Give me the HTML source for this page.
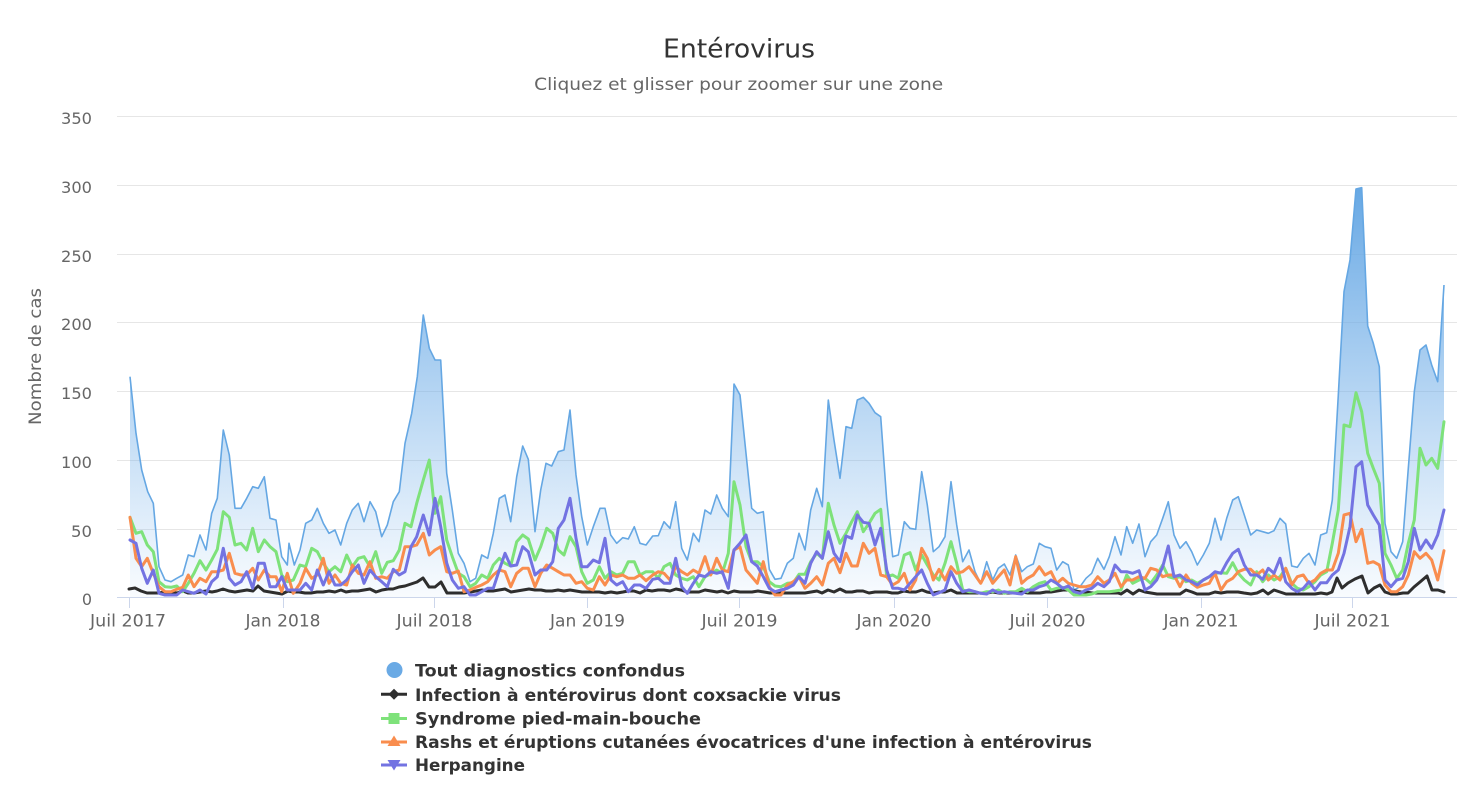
<!DOCTYPE html>
<html><head><meta charset="utf-8"><style>
html,body{margin:0;padding:0;background:#fff;}
svg{display:block;font-family:"DejaVu Sans","Liberation Sans",sans-serif;}
</style></head><body>
<svg width="1480" height="808" viewBox="0 0 1480 808" xmlns="http://www.w3.org/2000/svg">
<defs>
<linearGradient id="ga" gradientUnits="userSpaceOnUse" x1="0" y1="188" x2="0" y2="597.5">
<stop offset="0" stop-color="#67a8e4" stop-opacity="1"/>
<stop offset="1" stop-color="#7cb5ec" stop-opacity="0.05"/>
</linearGradient>
</defs>
<rect width="1480" height="808" fill="#fff"/>
<text x="739" y="57.3" text-anchor="middle" font-size="26" fill="#333" textLength="152" lengthAdjust="spacingAndGlyphs">Entérovirus</text>
<text x="738.7" y="90" text-anchor="middle" font-size="17" fill="#666" textLength="409" lengthAdjust="spacingAndGlyphs">Cliquez et glisser pour zoomer sur une zone</text>
<g stroke="#e6e6e6" stroke-width="1">
<line x1="117" y1="116.5" x2="1457" y2="116.5"/>
<line x1="117" y1="185.5" x2="1457" y2="185.5"/>
<line x1="117" y1="254.5" x2="1457" y2="254.5"/>
<line x1="117" y1="322.5" x2="1457" y2="322.5"/>
<line x1="117" y1="391.5" x2="1457" y2="391.5"/>
<line x1="117" y1="460.5" x2="1457" y2="460.5"/>
<line x1="117" y1="529.5" x2="1457" y2="529.5"/>
</g>
<g font-size="16" fill="#666" text-anchor="end">
<text x="92" y="124" textLength="31" lengthAdjust="spacingAndGlyphs">350</text>
<text x="92" y="193" textLength="31" lengthAdjust="spacingAndGlyphs">300</text>
<text x="92" y="262" textLength="31" lengthAdjust="spacingAndGlyphs">250</text>
<text x="92" y="330" textLength="31" lengthAdjust="spacingAndGlyphs">200</text>
<text x="92" y="399" textLength="31" lengthAdjust="spacingAndGlyphs">150</text>
<text x="92" y="468" textLength="31" lengthAdjust="spacingAndGlyphs">100</text>
<text x="92" y="537" textLength="21" lengthAdjust="spacingAndGlyphs">50</text>
<text x="92" y="605">0</text>
</g>
<text transform="translate(41,356.5) rotate(-90)" text-anchor="middle" font-size="17" fill="#666" textLength="137" lengthAdjust="spacingAndGlyphs">Nombre de cas</text>

<path fill="url(#ga)" stroke="none" d="M130,597.5 L130,376.7 136,433.3 141.7,470 147.7,491.7 153.3,503.3 159,566.7 165,580 171,581.7 176.7,578.3 182.7,575 188.3,555 194,556.7 200,535 206,550 211.7,513.3 217.3,498.3 223.3,430 229.3,455 235,508.3 241,508.3 246.7,498.3 252.7,486.7 258.3,488.3 264.3,476.7 270,518.3 276,520 281.7,556.7 287.3,565 289,543.3 294.3,565 300,550 305.7,523.3 311.7,520 317.3,508.3 323.3,523.3 329,533.3 335,530 340.7,545 346.7,523.3 352.3,510 358.3,503.3 364,521.7 370,501.7 375.7,511.7 381.7,536.7 387.3,525 393.3,501.7 399.3,491.7 405,443.3 411.7,413.3 417.3,376.7 423.3,315 429.3,348.3 435,360 440.7,360 446.7,473.3 452.3,510 458.3,553.3 464,563.3 470,581.7 475.7,578.3 481.7,555 487.7,558.3 493.3,533.3 499.3,498.3 505,495 510.7,521.7 516.7,476.7 522.7,446 528.3,459.3 535,531.7 540.7,490 546,463.3 551.7,466 558.3,451.7 564,450 570,410 576,475 581.7,516.7 587.3,545 593.3,526.7 600,508.3 605,508.3 610.7,535 616.7,543.3 622.7,537.7 628.3,539 634.3,526.7 640,543.3 646,545 652.7,536 658.3,535.7 664,521.7 670,528.3 675.7,501.7 681.7,548.3 687.3,560 693.3,533.3 699,541.7 705,510 710.7,514 716.7,495 722.3,508.3 728.3,516.7 734,384 740,395 746,453.3 751.7,508.3 757.3,513.3 763.3,511.7 769.3,569.3 775,579.3 781,578.3 787.3,563.3 793.3,558.3 799,533.3 805,550 810.7,510 816.7,488.3 822.3,506.7 828.3,400 834,440 840,478.3 846,426.7 851.7,428.3 857.3,400 863.3,397.3 869,403.3 875,412.7 880.7,416.7 886.7,500 892.7,556.7 898.3,555 904.3,521.7 910,528.3 915.7,529.3 921.7,471.7 927.3,505 933.3,551.7 939,546.7 945,536.7 951,481.7 956.7,525 962.7,561.7 969,550 975,571.7 980.7,583.3 986.7,561.7 992.7,580 998.3,568.3 1004.3,564 1010,575 1015.7,555 1021.7,571.7 1027.3,566.7 1033.3,564 1039.3,543.3 1045,546.7 1051,548.3 1056.7,570 1062.7,561.7 1068.3,565 1074,590 1080,586.7 1086,578.3 1091.7,573.3 1097.7,558.3 1104,569.3 1109.3,556.7 1115,536.7 1121,555 1126.7,526.7 1132.7,543.3 1139,524 1145,556.7 1150.7,541.7 1156.7,535 1162.7,518.3 1168.3,501.7 1174,535 1180,548.3 1186,541.7 1191.7,551.7 1197.3,565 1203.3,555 1209.3,543.3 1215,518.3 1221,540 1226.7,518.3 1232.7,500 1238.3,496.7 1244.3,515 1250.7,535 1256.7,530 1262.7,531.7 1268.3,533.3 1274,530.7 1280,518.3 1285.7,524 1291.7,566 1297.3,567.3 1303.3,558.3 1309,553.3 1315,565 1320.7,535 1326.7,532.7 1332.3,500 1338.3,395 1344,291.7 1350,260 1356,189 1361.7,187.7 1367.7,326 1373.3,343.3 1379.3,366.7 1385,523.3 1391,551.7 1396.7,558.3 1402.7,541.7 1408.3,468.3 1414.3,391.7 1420,350 1426,345 1431.7,365 1437.7,381.7 1444,285 L1444,597.5 Z"/>
<polyline fill="none" stroke="#65a7e3" stroke-width="1.6" stroke-linejoin="round" points="130,376.7 136,433.3 141.7,470 147.7,491.7 153.3,503.3 159,566.7 165,580 171,581.7 176.7,578.3 182.7,575 188.3,555 194,556.7 200,535 206,550 211.7,513.3 217.3,498.3 223.3,430 229.3,455 235,508.3 241,508.3 246.7,498.3 252.7,486.7 258.3,488.3 264.3,476.7 270,518.3 276,520 281.7,556.7 287.3,565 289,543.3 294.3,565 300,550 305.7,523.3 311.7,520 317.3,508.3 323.3,523.3 329,533.3 335,530 340.7,545 346.7,523.3 352.3,510 358.3,503.3 364,521.7 370,501.7 375.7,511.7 381.7,536.7 387.3,525 393.3,501.7 399.3,491.7 405,443.3 411.7,413.3 417.3,376.7 423.3,315 429.3,348.3 435,360 440.7,360 446.7,473.3 452.3,510 458.3,553.3 464,563.3 470,581.7 475.7,578.3 481.7,555 487.7,558.3 493.3,533.3 499.3,498.3 505,495 510.7,521.7 516.7,476.7 522.7,446 528.3,459.3 535,531.7 540.7,490 546,463.3 551.7,466 558.3,451.7 564,450 570,410 576,475 581.7,516.7 587.3,545 593.3,526.7 600,508.3 605,508.3 610.7,535 616.7,543.3 622.7,537.7 628.3,539 634.3,526.7 640,543.3 646,545 652.7,536 658.3,535.7 664,521.7 670,528.3 675.7,501.7 681.7,548.3 687.3,560 693.3,533.3 699,541.7 705,510 710.7,514 716.7,495 722.3,508.3 728.3,516.7 734,384 740,395 746,453.3 751.7,508.3 757.3,513.3 763.3,511.7 769.3,569.3 775,579.3 781,578.3 787.3,563.3 793.3,558.3 799,533.3 805,550 810.7,510 816.7,488.3 822.3,506.7 828.3,400 834,440 840,478.3 846,426.7 851.7,428.3 857.3,400 863.3,397.3 869,403.3 875,412.7 880.7,416.7 886.7,500 892.7,556.7 898.3,555 904.3,521.7 910,528.3 915.7,529.3 921.7,471.7 927.3,505 933.3,551.7 939,546.7 945,536.7 951,481.7 956.7,525 962.7,561.7 969,550 975,571.7 980.7,583.3 986.7,561.7 992.7,580 998.3,568.3 1004.3,564 1010,575 1015.7,555 1021.7,571.7 1027.3,566.7 1033.3,564 1039.3,543.3 1045,546.7 1051,548.3 1056.7,570 1062.7,561.7 1068.3,565 1074,590 1080,586.7 1086,578.3 1091.7,573.3 1097.7,558.3 1104,569.3 1109.3,556.7 1115,536.7 1121,555 1126.7,526.7 1132.7,543.3 1139,524 1145,556.7 1150.7,541.7 1156.7,535 1162.7,518.3 1168.3,501.7 1174,535 1180,548.3 1186,541.7 1191.7,551.7 1197.3,565 1203.3,555 1209.3,543.3 1215,518.3 1221,540 1226.7,518.3 1232.7,500 1238.3,496.7 1244.3,515 1250.7,535 1256.7,530 1262.7,531.7 1268.3,533.3 1274,530.7 1280,518.3 1285.7,524 1291.7,566 1297.3,567.3 1303.3,558.3 1309,553.3 1315,565 1320.7,535 1326.7,532.7 1332.3,500 1338.3,395 1344,291.7 1350,260 1356,189 1361.7,187.7 1367.7,326 1373.3,343.3 1379.3,366.7 1385,523.3 1391,551.7 1396.7,558.3 1402.7,541.7 1408.3,468.3 1414.3,391.7 1420,350 1426,345 1431.7,365 1437.7,381.7 1444,285"/>

<polyline fill="none" stroke="#2e2e2e" stroke-width="3" stroke-linejoin="round" stroke-linecap="round" points="129,589 135,588 141,591 147,593 153,593 159,593 165,592 171,592 177,593 183,591 188,593 194,593 200,592 206,591 212,592 217,591 223,589 229,591 235,592 241,591 247,590 253,591 258,586 264,591 270,592 276,593 282,594 288,591 293,592 299,592 305,593 311,593 317,592 323,592 329,591 335,592 341,590 346,592 352,591 358,591 364,590 370,589 376,592 382,590 388,589 393,589 399,587 405,586 411,584 417,582 423,578 429,587 435,587 441,582 447,593 452,593 458,593 464,593 470,592 476,591 482,590 488,591 493,591 499,590 505,589 511,592 517,591 523,590 529,589 535,590 541,590 546,591 552,591 558,590 564,591 570,590 576,591 582,592 587,592 593,592 599,592 605,593 611,592 617,593 623,592 628,591 634,591 640,593 646,590 652,591 658,590 664,590 670,591 676,589 681,590 687,592 693,592 699,592 705,590 711,591 717,592 722,591 728,593 734,591 740,592 746,592 752,592 758,591 764,592 770,593 775,593 781,593 787,593 793,593 799,593 805,593 811,592 817,591 822,593 828,590 834,592 840,589 846,592 852,592 857,591 863,591 869,593 875,592 881,592 887,592 892,593 898,593 904,591 910,592 916,592 922,590 927,592 933,593 939,592 945,592 951,590 957,593 963,593 969,593 975,593 981,593 987,593 993,592 999,593 1005,593 1010,593 1016,593 1022,592 1028,593 1034,593 1040,593 1046,592 1051,592 1057,591 1063,590 1069,590 1075,591 1081,592 1086,592 1092,593 1100,593 1106,593 1112,593 1118,593 1121,594 1127,590 1133,594 1139,590 1145,592 1151,593 1157,594 1163,594 1169,594 1175,594 1180,594 1186,590 1192,592 1197,594 1203,594 1209,594 1215,592 1221,593 1227,592 1233,592 1238,592 1244,593 1251,594 1257,593 1263,590 1268,594 1274,590 1280,592 1286,594 1292,594 1298,594 1303,594 1309,594 1315,594 1321,593 1327,594 1332,592 1337,578 1342,588 1348,583 1355,579 1362,576 1368,593 1374,588 1380,585 1385,592 1391,594 1397,594 1403,593 1408,593 1414,587 1420,582 1427,576 1432,590 1438,590 1444,592"/>

<polyline fill="none" stroke="#7ee27a" stroke-width="3" stroke-linejoin="round" stroke-linecap="round" points="130,517.3 136,533.3 141.7,531.7 147.3,545 153.3,551.7 159,581.7 165,586.7 171,587.3 176.7,586 182.7,591.7 188.3,583.3 194,573.3 200,560.7 206,570 211.7,560 217.3,549.3 223.3,511.7 229.3,517.3 235,545 241,543.3 246.7,550 252.7,528.3 258.3,551.7 264.3,540 270,546.7 276,551.7 281.7,575 287.3,581.7 293.3,580 300,565 305.7,566.7 311.7,548.3 317.3,551.7 323.3,563.3 329,571.7 335,566.7 340.7,571.7 346.7,555 352.3,566.7 358.3,558.3 364,556.7 370,566.7 375.7,551.7 381.7,573.3 387.3,562.3 393.3,560.7 399.3,550 405,523.3 411,526.7 416.7,503.3 423.3,480 429.3,460 435,513.3 440.7,496.7 446.7,540 452.3,556.7 458.3,573.3 464,576.7 470,586.7 475.7,583.3 481.7,575 487.7,578.3 493.3,565 499.3,558.3 505,563.3 510.7,566 516.7,541.7 522.7,535 528.3,539 535,560 540.7,546.7 546.7,528.3 552.7,533.3 558.3,550 564,555 570,536.7 576,546.7 581.7,571.7 587.3,583.3 593.3,580 599.3,566.7 605,578.3 611,571.7 616.7,575 622.7,573.3 628.3,561.7 634.3,561.7 640,575 646,571.7 652.7,571.7 658.3,578.3 664,566.7 670,563.3 675.7,575 681.7,578.3 687.3,580 693.3,576.7 699,586.7 705,576.7 710.7,574 716.7,570 722.3,573.3 728.3,553.3 734,481.7 740,505 746,546.7 751.7,561.7 757.3,561.7 763.3,566.7 769.3,581.7 775,586 781,586.7 787.3,583.3 793.3,582.7 799,574.3 805,574.3 810.7,561.7 816.7,553.3 822.3,558.3 828.3,503.3 834,525 840,543.3 846,533.3 851.7,521.7 857.3,511.7 863.3,531.7 869,523.3 875,513.3 880.7,509.3 886.7,576.7 892.7,575 898.3,578.3 904.3,555 910,552.7 915.7,570 921.7,555 927.3,565 933.3,575 939,580 945,563.3 951,541.7 956.7,563.3 962.7,590 969,591.7 975,591.7 980.7,593.3 986.7,591.7 992.7,591.7 998.3,590 1004.3,593.3 1010,591.7 1015.7,591.7 1021.7,588.3 1027.3,591.7 1033.3,586.7 1039.3,583.3 1045,581.7 1051,590 1056.7,588.3 1062.7,587.3 1068.3,590 1074,595 1080,595 1086,595 1091.7,594 1097.7,591.7 1104,591.7 1109.3,591.7 1115,591 1121,590 1126.7,575 1132.7,583.3 1139,580 1145,578.3 1150.7,583.3 1156.7,575 1162.7,565 1168.3,576.7 1174,578.3 1180,576.7 1186,581.7 1191.7,580 1197.3,583.3 1203.3,580 1209.3,576.7 1215,573.3 1221,572.7 1226.7,573.3 1232.7,562.7 1238.3,573.3 1244.3,580 1250.7,585 1256.7,571.7 1262.7,581.7 1268.3,575 1274,580 1280,576.7 1285.7,568.3 1291.7,583.3 1297.3,588.3 1303.3,590 1309,586.7 1315,581.7 1320.7,575 1326.7,571.7 1332.3,543.3 1338.3,510 1344,425 1350,426.7 1356,392.7 1361.7,411.7 1367.7,453.3 1373.3,468.3 1379.3,483.3 1385,553.3 1391,565 1396.7,578.3 1402.7,570 1408.3,543.3 1414.3,520 1420,448.3 1426,465 1431.7,458.3 1437.7,468.3 1444,421.7"/>

<polyline fill="none" stroke="#f98d4e" stroke-width="3" stroke-linejoin="round" stroke-linecap="round" points="130,517.3 136,558.3 141.7,566.7 147.3,558.3 153.3,573.3 159,586.7 165,591.7 171,591.7 176.7,589.3 182.7,587.3 188.3,575 194,586.7 200,578.3 206,581.7 211.7,571.7 217.3,571.7 223.3,570 229.3,553.3 235,573.3 241,575 246.7,575 252.7,568.3 258.3,580 264.3,570 270,576.7 276,576.7 281.7,591.7 287.3,573.3 293.3,593.3 300,583.3 305.7,568.3 311.7,578.3 317.3,575 323.3,558.3 329,583.3 335,575 340.7,583.3 346.7,585 352.3,565 358.3,573.3 364,575 370,561.7 375.7,578.3 381.7,576.7 387.3,578.3 393.3,571.7 399.3,570 405,546.7 411,546.7 416.7,545 423.3,533.3 429.3,555 435,550 440.7,546.7 446.7,571.7 452.3,573.3 458.3,571 464,591.7 470,590 475.7,587.3 481.7,585 487.7,581.7 493.3,575 499.3,570 505,571.7 510.7,586.7 516.7,573.3 522.7,568.3 528.3,568.3 535,586.7 540.7,573.3 546.7,565 552.7,568.3 558.3,571.7 564,575 570,575 576,583.3 581.7,581.7 587.3,588.3 593.3,590 599.3,576.7 605,585 611,575 616.7,576.7 622.7,575 628.3,578.3 634.3,578.3 640,575 646,580.7 652.7,575 658.3,571.7 664,573.3 670,580 675.7,566.7 681.7,571.7 687.3,575 693.3,570 699,573.3 705,556.7 710.7,575 716.7,558.3 722.3,570 728.3,571.7 734,550 740,546.7 746,570 751.7,576.7 757.3,583.3 763.3,561.7 769.3,586.7 775,595 781,595 787.3,585 793.3,581.7 799,576.7 805,588.3 810.7,583.3 816.7,576.7 822.3,585 828.3,563.3 834,558.3 840,572.7 846,553.3 851.7,566 857.3,566 863.3,543.3 869,553.3 875,548.3 880.7,575 886.7,576.7 892.7,585 898.3,581.7 904.3,573.3 910,590 915.7,580 921.7,548.3 927.3,558.3 933.3,580 939,569.3 945,580 951,566.7 956.7,573.3 962.7,571.7 969,566.7 975,575 980.7,583.3 986.7,571.7 992.7,583.3 998.3,576.7 1004.3,570 1010,585 1015.7,556.7 1021.7,583.3 1027.3,578.3 1033.3,575 1039.3,566.7 1045,575 1051,571.7 1056.7,583.3 1062.7,578.3 1068.3,583.3 1074,585 1080,586.7 1086,586.7 1091.7,585 1097.7,576.7 1104,583.3 1109.3,580 1115,573.3 1121,586.7 1126.7,580 1132.7,580 1139,576.7 1145,578.3 1150.7,568.3 1156.7,570 1162.7,576.7 1168.3,575 1174,575 1180,586.7 1186,575 1191.7,583.3 1197.3,587.3 1203.3,585 1209.3,583.3 1215,573.3 1221,590 1226.7,581.7 1232.7,578.3 1238.3,571.7 1244.3,569.3 1250.7,569.3 1256.7,575 1262.7,570 1268.3,580 1274,575 1280,580 1285.7,568.3 1291.7,585 1297.3,576.7 1303.3,575 1309,583.3 1315,580 1320.7,573.3 1326.7,570 1332.3,570 1338.3,553.3 1344,515 1350,513.3 1356,541.7 1361.7,529.3 1367.7,563.3 1373.3,561.7 1379.3,565 1385,585 1391,591.7 1396.7,591.7 1402.7,586.7 1408.3,575 1414.3,551.7 1420,558.3 1426,553.3 1431.7,560 1437.7,580 1444,550.7"/>

<polyline fill="none" stroke="#7373e2" stroke-width="3" stroke-linejoin="round" stroke-linecap="round" points="130,540 136,543.3 141.7,568.3 147.3,583.3 153.3,570 159,593.3 165,595 171,595 176.7,595 182.7,590 188.3,591.7 194,593.3 200,590 206,594 211.7,581.7 217.3,576.7 223.3,548.3 229.3,578.3 235,585 241,581.7 246.7,571.7 252.7,588.3 258.3,563.3 264.3,563.3 270,586.7 276,586.7 281.7,576.7 287.3,590 293.3,590 300,590 305.7,583.3 311.7,590 317.3,570 323.3,585 329,571.7 335,585 340.7,585 346.7,580 352.3,571.7 358.3,565 364,583.3 370,570 375.7,576.7 381.7,581.7 387.3,586.7 393.3,569.3 399.3,575 405,571.7 411,546.7 416.7,536.7 423.3,515 429.3,535 435,498.3 440.7,526.7 446.7,563 452.3,580 458.3,588.3 464,586.7 470,595 475.7,595 481.7,591.7 487.7,588.3 493.3,588.3 499.3,570 505,553.3 510.7,566 516.7,565 522.7,546.7 528.3,551.7 535,575 540.7,570 546.7,570 552.7,561.7 558.3,528.3 564,520 570,498.3 576,538.3 581.7,566.7 587.3,566.7 593.3,560 599.3,562.7 605,538.3 611,580 616.7,585 622.7,581.7 628.3,591.7 634.3,585 640,585 646,588.3 652.7,579.3 658.3,578.3 664,583.3 670,583.3 675.7,558.3 681.7,586.7 687.3,593.3 693.3,583.3 699,575 705,576.7 710.7,571.7 716.7,573.3 722.3,571.7 728.3,588.3 734,550 740,543.3 746,535 751.7,561.7 757.3,566 763.3,576.7 769.3,588.3 775,591.7 781,590 787.3,588.3 793.3,585 799,576.7 805,583.3 810.7,563.3 816.7,551.7 822.3,558.3 828.3,531.7 834,553.3 840,561.7 846,536 851.7,538.3 857.3,515 863.3,522.3 869,523.3 875,545 880.7,528.3 886.7,570 892.7,588.3 898.3,588.3 904.3,590 910,583.3 915.7,576.7 921.7,570 927.3,583.3 933.3,595 939,592.7 945,590 951,571.7 956.7,583.3 962.7,591.7 969,590 975,591.7 980.7,593.3 986.7,594 992.7,590 998.3,592.7 1004.3,591.7 1010,592.7 1015.7,593.3 1021.7,594 1027.3,590 1033.3,590 1039.3,586.7 1045,585 1051,580 1056.7,583.3 1062.7,588.3 1068.3,586 1074,591.7 1080,593.3 1086,590 1091.7,588.3 1097.7,583.3 1104,586.7 1109.3,581.7 1115,565 1121,571.7 1126.7,571.7 1132.7,573.3 1139,570.7 1145,590 1150.7,586.7 1156.7,580 1162.7,566.7 1168.3,546 1174,576.7 1180,575 1186,580 1191.7,581.7 1197.3,585 1203.3,580 1209.3,576.7 1215,571.7 1221,573.3 1226.7,562.7 1232.7,553.3 1238.3,549.3 1244.3,565 1250.7,575 1256.7,575 1262.7,579.3 1268.3,568.3 1274,573.3 1280,558.3 1285.7,581.7 1291.7,588.3 1297.3,591.7 1303.3,588.3 1309,581.7 1315,590 1320.7,582.7 1326.7,582.7 1332.3,575 1338.3,570 1344,553.3 1350,526.7 1356,466.7 1361.7,461.7 1367.7,505 1373.3,515 1379.3,525 1385,580 1391,586.7 1396.7,580 1402.7,578.3 1408.3,561.7 1414.3,528.3 1420,550 1426,540 1431.7,548.3 1437.7,535 1444,510"/>

<line x1="117" y1="597.5" x2="1457" y2="597.5" stroke="#ccd6eb" stroke-width="1"/>
<g stroke="#ccd6eb" stroke-width="1">
<line x1="129.5" y1="597.5" x2="129.5" y2="608"/>
<line x1="283.5" y1="597.5" x2="283.5" y2="608"/>
<line x1="434.5" y1="597.5" x2="434.5" y2="608"/>
<line x1="587.5" y1="597.5" x2="587.5" y2="608"/>
<line x1="739.5" y1="597.5" x2="739.5" y2="608"/>
<line x1="894.5" y1="597.5" x2="894.5" y2="608"/>
<line x1="1047.5" y1="597.5" x2="1047.5" y2="608"/>
<line x1="1201.5" y1="597.5" x2="1201.5" y2="608"/>
<line x1="1352.5" y1="597.5" x2="1352.5" y2="608"/>
</g>
<g font-size="17" fill="#666" text-anchor="middle">
<text x="128" y="626.7" textLength="76" lengthAdjust="spacingAndGlyphs">Juil 2017</text>
<text x="283" y="626.7" textLength="75" lengthAdjust="spacingAndGlyphs">Jan 2018</text>
<text x="434.5" y="626.7" textLength="76" lengthAdjust="spacingAndGlyphs">Juil 2018</text>
<text x="587.5" y="626.7" textLength="75" lengthAdjust="spacingAndGlyphs">Jan 2019</text>
<text x="739.5" y="626.7" textLength="76" lengthAdjust="spacingAndGlyphs">Juil 2019</text>
<text x="894" y="626.7" textLength="75" lengthAdjust="spacingAndGlyphs">Jan 2020</text>
<text x="1047.5" y="626.7" textLength="76" lengthAdjust="spacingAndGlyphs">Juil 2020</text>
<text x="1201" y="626.7" textLength="75" lengthAdjust="spacingAndGlyphs">Jan 2021</text>
<text x="1352.5" y="626.7" textLength="76" lengthAdjust="spacingAndGlyphs">Juil 2021</text>
</g>

<circle cx="394.5" cy="670" r="8" fill="#6aaae5"/>
<line x1="381" y1="694.3" x2="407" y2="694.3" stroke="#2e2e2e" stroke-width="3"/>
<path d="M394,688.8 L399.5,694.3 394,699.8 388.5,694.3 Z" fill="#2e2e2e"/>
<line x1="381" y1="718.5" x2="407" y2="718.5" stroke="#7ee27a" stroke-width="3"/>
<rect x="388.5" y="713" width="11" height="11" fill="#7ee27a"/>
<line x1="381" y1="742" x2="407" y2="742" stroke="#f98d4e" stroke-width="3"/>
<path d="M394,735.5 L400.5,746 387.5,746 Z" fill="#f98d4e"/>
<line x1="381" y1="765" x2="407" y2="765" stroke="#7373e2" stroke-width="3"/>
<path d="M387.5,760 L400.5,760 394,770.5 Z" fill="#7373e2"/>
<g font-size="17" font-weight="bold" fill="#333">
<text x="415" y="676.7" textLength="270" lengthAdjust="spacingAndGlyphs">Tout diagnostics confondus</text>
<text x="415" y="700.8" textLength="426" lengthAdjust="spacingAndGlyphs">Infection à entérovirus dont coxsackie virus</text>
<text x="415" y="724.5" textLength="286" lengthAdjust="spacingAndGlyphs">Syndrome pied-main-bouche</text>
<text x="415" y="747.8" textLength="677" lengthAdjust="spacingAndGlyphs">Rashs et éruptions cutanées évocatrices d'une infection à entérovirus</text>
<text x="415" y="771" textLength="110" lengthAdjust="spacingAndGlyphs">Herpangine</text>
</g>
</svg>
</body></html>
